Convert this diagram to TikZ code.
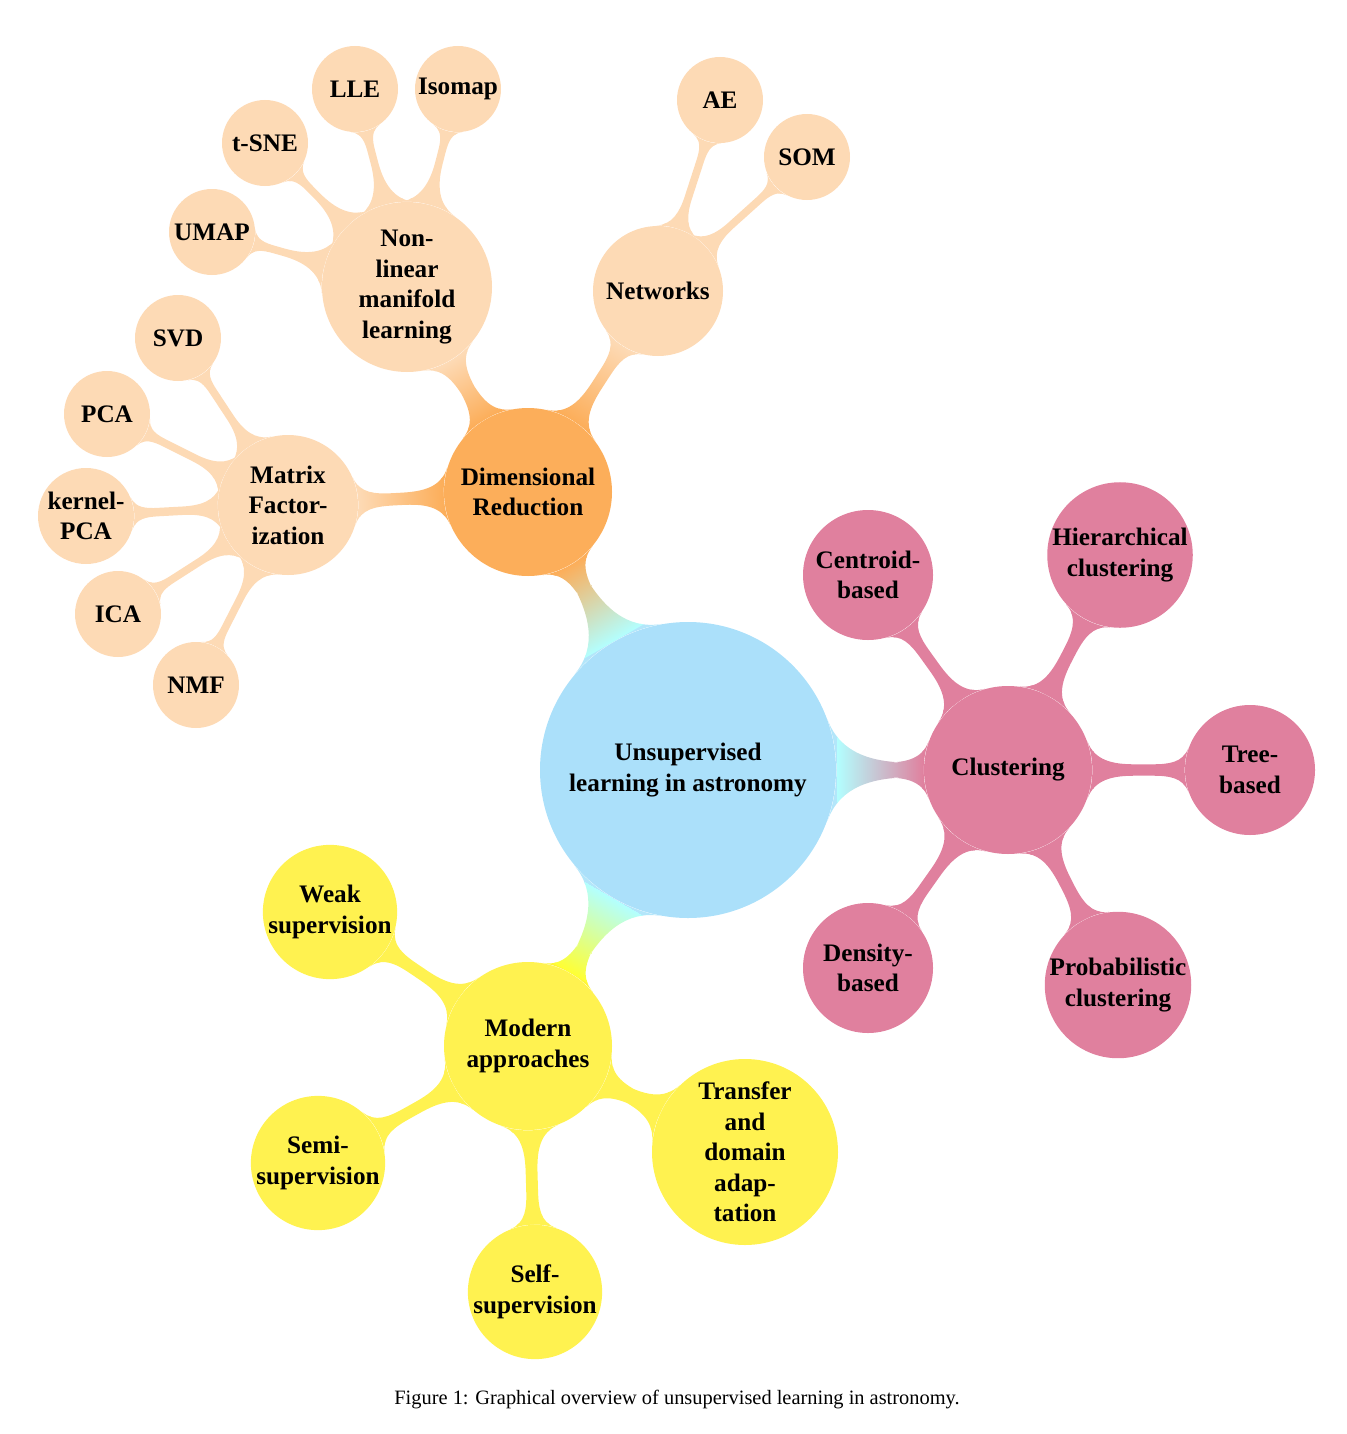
\documentclass[tikz,border=0pt]{standalone}
\usepackage{fontspec}
\setmainfont{Liberation Serif}
\usetikzlibrary{mindmap,positioning,backgrounds}
\definecolor{rootblue}{RGB}{171,224,250}
\definecolor{dimorange}{RGB}{252,174,90}
\definecolor{peach}{RGB}{253,218,181}
\definecolor{clpink}{RGB}{224,128,158}
\definecolor{modyellow}{RGB}{255,242,80}
\tikzset{
  idea/.style    ={circle,inner sep=0pt,align=center,
                   font=\fontsize{12.6}{15.3}\selectfont\bfseries},
  rootidea/.style={idea,fill=rootblue,minimum size=148pt},
  mainidea/.style={idea,minimum size=84pt},
  subidea/.style ={idea,minimum size=65pt},
  leaf/.style    ={idea,fill=peach,minimum size=43pt},
  link/.style 2 args={circle connection bar switch color=from (#1) to (#2)},
  capt/.style    ={font=\fontsize{10.2}{12}\selectfont,inner sep=0pt},
}
\begin{document}
\begin{tikzpicture}[x=0.5pt,y=-0.5pt]
  \useasboundingbox (0,0) rectangle (1346,1434);
  % centre and the three branches
  \node[rootidea] (root) at (688,770) {Unsupervised\\learning in astronomy};
  \node[mainidea,fill=dimorange] (dim) at (528,492) {Dimensional\\Reduction};
  \node[mainidea,fill=clpink] (clu) at (1008,770) {Clustering};
  \node[mainidea,fill=modyellow] (mod) at (528,1046) {Modern\\approaches};

  % dimensional reduction
  \node[subidea,fill=peach,minimum size=70pt] (mat) at (288,505) {Matrix\\Factor-\\ization};
  \node[subidea,fill=peach,minimum size=85pt] (nonlin) at (407,287) {Non-\\linear\\manifold\\learning};
  \node[subidea,fill=peach] (net) at (658,291) {Networks};
  \node[leaf] (svd)  at (178,338) {SVD};
  \node[leaf] (pca)  at (107,414) {PCA};
  \node[leaf,minimum size=48pt] (kpca) at (86,516) {kernel-\\PCA};
  \node[leaf] (ica)  at (118,614) {ICA};
  \node[leaf] (nmf)  at (196,685) {NMF};
  \node[leaf] (umap) at (212,232) {UMAP};
  \node[leaf] (tsne) at (265,143) {t-SNE};
  \node[leaf] (lle)  at (355,89)  {LLE};
  \node[leaf] (iso)  at (458,89)  {Isomap};
  \node[leaf] (ae)   at (720,100) {AE};
  \node[leaf] (som)  at (807,157) {SOM};

  % clustering
  \node[subidea,fill=clpink] (cen)  at (868,575)  {Centroid-\\based};
  \node[subidea,fill=clpink] (hie)  at (1120,555) {Hierarchical\\clustering};
  \node[subidea,fill=clpink] (tree) at (1250,770) {Tree-\\based};
  \node[subidea,fill=clpink] (den)  at (868,968)  {Density-\\based};
  \node[subidea,fill=clpink] (pro)  at (1118,985) {Probabilistic\\clustering};

  % modern approaches
  \node[subidea,fill=modyellow] (weak)  at (330,912)  {Weak\\supervision};
  \node[subidea,fill=modyellow] (semi)  at (318,1163) {Semi-\\supervision};
  \node[subidea,fill=modyellow] (self)  at (535,1292) {Self-\\supervision};
  \node[subidea,fill=modyellow,minimum size=93pt] (trans) at (745,1152) {Transfer\\and\\domain\\adap-\\tation};

  % connection bars (branch bars behind the circles)
  \begin{scope}[on background layer]
    \foreach \sub in {mat,nonlin,net}
      \path[line width=7pt] (dim) to[link={dimorange}{peach}] (\sub);
    \foreach \lf in {svd,pca,kpca,ica,nmf}
      \path[line width=4.5pt] (mat) to[link={peach}{peach}] (\lf);
    \foreach \lf in {umap,tsne,lle,iso}
      \path[line width=4.5pt] (nonlin) to[link={peach}{peach}] (\lf);
    \foreach \lf in {ae,som}
      \path[line width=4.5pt] (net) to[link={peach}{peach}] (\lf);
    \foreach \sub in {cen,hie,tree,den,pro}
      \path[line width=6pt] (clu) to[link={clpink}{clpink}] (\sub);
    \foreach \sub in {weak,semi,self,trans}
      \path[line width=6pt] (mod) to[link={modyellow}{modyellow}] (\sub);
  \end{scope}
  \path[line width=8pt] (root) to[link={cyan!30}{dimorange}] (dim);
  \path[line width=8pt] (root) to[link={cyan!30}{clpink}] (clu);
  \path[line width=8pt] (root) to[link={cyan!30}{yellow!80}] (mod);

  \node[capt] (cap) at (677,1400) {Figure 1: Graphical overview of unsupervised learning in astronomy.};
\end{tikzpicture}
\end{document}
